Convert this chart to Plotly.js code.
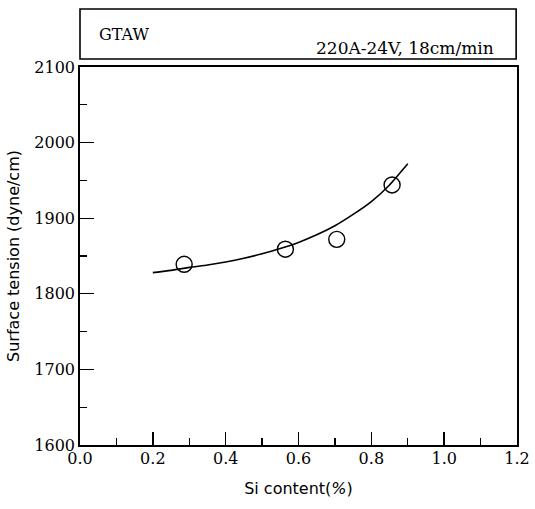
<!DOCTYPE html>
<html>
<head>
<meta charset="utf-8">
<script src="https://cdn.plot.ly/plotly-3.0.1.min.js"></script>
<style>html,body{margin:0;padding:0;background:#fff;}#chart{width:535px;height:509px;}</style>
</head>
<body>
<div id="chart"></div>
<script>
// Measured data points
const siContent = [0.286, 0.564, 0.705, 0.857];
const surfaceTension = [1839, 1859, 1872, 1944];

// Fitted curve
const curveSi = [0.2, 0.25, 0.3, 0.35, 0.4, 0.45, 0.5, 0.55, 0.6, 0.65, 0.7, 0.75, 0.8, 0.85, 0.9];
const curveTension = [1828, 1831, 1835, 1838, 1842, 1847, 1853, 1860, 1868, 1878, 1890, 1905, 1922, 1944, 1972];

const xTickVals = [0, 0.2, 0.4, 0.6, 0.8, 1.0, 1.2];
const xTickText = ["0.0", "0.2", "0.4", "0.6", "0.8", "1.0", "1.2"];
const yTickVals = [1600, 1700, 1800, 1900, 2000, 2100];
const yTickText = ["1600", "1700", "1800", "1900", "2000", "2100"];

const processLabel = "GTAW";
const conditionLabel = "220A-24V, 18cm/min";

const serif = "DejaVu Serif";
const sans = "DejaVu Sans";

const traces = [
  {
    x: curveSi, y: curveTension, type: "scatter", mode: "lines",
    line: {color: "#000", width: 1.6, shape: "spline", smoothing: 0.5},
    hoverinfo: "skip", showlegend: false
  },
  {
    x: siContent, y: surfaceTension, type: "scatter", mode: "markers",
    marker: {symbol: "circle-open", size: 16, color: "#000", line: {color: "#000", width: 1.4}},
    showlegend: false
  }
];

const layout = {
  width: 535, height: 509,
  margin: {l: 80, r: 18, t: 67, b: 64, pad: 0},
  paper_bgcolor: "#fff", plot_bgcolor: "#fff",
  showlegend: false,
  font: {family: serif, color: "#000", size: 16},
  xaxis: {
    range: [0, 1.2], tickmode: "array", tickvals: xTickVals, ticktext: xTickText,
    ticks: "inside", ticklen: 13, tickwidth: 1.4, tickcolor: "#000",
    minor: {ticks: "inside", ticklen: 7, tickwidth: 1.2, tickcolor: "#000", dtick: 0.1, showgrid: false},
    showline: true, linecolor: "#000", linewidth: 1.8, mirror: true,
    showgrid: false, zeroline: false,
    tickfont: {family: serif, size: 16, color: "#000"},
    ticklabelstandoff: -2,
    title: {text: "Si content(<i>%</i>)", font: {family: sans, size: 16, color: "#000"}, standoff: 16},
    automargin: false
  },
  yaxis: {
    range: [1600, 2100], tickmode: "array", tickvals: yTickVals, ticktext: yTickText,
    ticks: "inside", ticklen: 14, tickwidth: 1.4, tickcolor: "#000",
    minor: {ticks: "inside", ticklen: 7, tickwidth: 1.2, tickcolor: "#000", dtick: 50, showgrid: false},
    showline: true, linecolor: "#000", linewidth: 1.8, mirror: true,
    showgrid: false, zeroline: false,
    tickfont: {family: serif, size: 16, color: "#000"},
    title: {text: "Surface tension (dyne/cm)", font: {family: sans, size: 16, color: "#000"}, standoff: 11},
    automargin: false
  },
  shapes: [
    {type: "rect", xref: "paper", yref: "paper", x0: 0, x1: 0.998, y0: 1.0212, y1: 1.1534,
     line: {color: "#000", width: 1.6}, fillcolor: "rgba(0,0,0,0)"}
  ],
  annotations: [
    {text: processLabel, xref: "paper", yref: "paper", x: 0.039, y: 1.087,
     xanchor: "left", yanchor: "middle", showarrow: false,
     font: {family: serif, size: 16, color: "#000"}},
    {text: conditionLabel, xref: "paper", yref: "paper", x: 0.952, y: 1.05,
     xanchor: "right", yanchor: "middle", showarrow: false,
     font: {family: serif, size: 17, color: "#000"}}
  ]
};

Plotly.newPlot("chart", traces, layout, {displayModeBar: false, staticPlot: true});
</script>
</body>
</html>
